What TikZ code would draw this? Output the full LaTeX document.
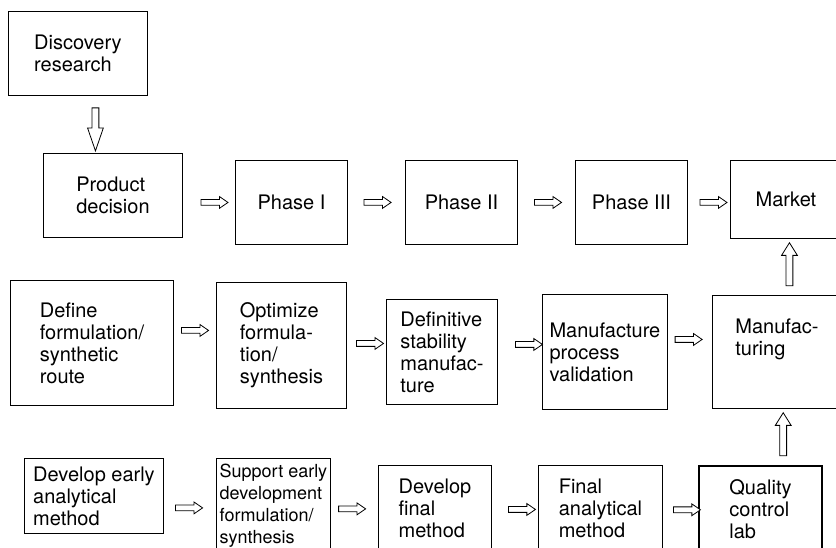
\documentclass[tikz,border=0pt]{standalone}
\usepackage{fontspec}
\setmainfont{TeX Gyre Heros}
\usetikzlibrary{shapes.arrows}
\begin{document}
\begin{tikzpicture}[x=1pt,y=-1pt,
  box/.style={draw, line width=0.9pt, inner sep=0pt, align=left, anchor=north west,
    font=\fontsize{20}{22}\selectfont},
  boldbox/.style={box, line width=2pt},
  harr/.style={single arrow, draw, fill=white, line width=0.8pt, inner xsep=0pt, inner ysep=2.5pt,
    minimum height=27pt, single arrow head extend=3pt,
    single arrow tip angle=69, single arrow head indent=0pt},
  darr/.style={harr, rotate=-90, minimum height=43pt, inner ysep=3pt,
    single arrow head extend=4.5pt, single arrow tip angle=38},
  uarr/.style={harr, rotate=90, minimum height=43pt, inner ysep=3pt,
    single arrow head extend=4.5pt, single arrow tip angle=64}
]
\useasboundingbox (0,0) rectangle (836,548);
\clip (0,0) rectangle (836,548);

% row 0
\node[box, minimum width=139pt, minimum height=84pt] (dr) at (8,11) {Discovery\\research};
% row 1
\node[box, minimum width=139pt, minimum height=84pt] (pd) at (43,153) {Product\\decision};
\node[box, minimum width=112pt, minimum height=84pt] (p1) at (235,160) {Phase I};
\node[box, minimum width=112pt, minimum height=84pt] (p2) at (405,160) {Phase II};
\node[box, minimum width=112pt, minimum height=84pt] (p3) at (575,160) {Phase III};
\node[box, minimum width=111pt, minimum height=78pt] (mk) at (730,160) {Market};
% row 2
\node[box, minimum width=163pt, minimum height=125pt] (df) at (10,280) {Define\\formulation/\\synthetic\\route};
\node[box, minimum width=130pt, minimum height=126pt] (op) at (216,282) {Optimize\\formula-\\tion/\\synthesis};
\node[box, minimum width=111pt, minimum height=105pt] (ds) at (386,299) {Definitive\\stability\\manufac-\\ture};
\node[box, minimum width=125pt, minimum height=115pt] (mv) at (542,294) {Manufacture\\process\\validation};
\node[box, minimum width=129pt, minimum height=113pt] (mf) at (712,295) {Manufac-\\turing\\\strut};
% row 3
\node[box, minimum width=139pt, minimum height=75pt] (de) at (24,458) {Develop early\\analytical\\method};
\node[box, minimum width=114pt, minimum height=94pt, font=\fontsize{18}{22}\selectfont] (se) at (216,458) {Support early\\development\\formulation/\\synthesis};
\node[box, minimum width=113pt, minimum height=86pt] (dfm) at (378,465) {Develop\\final\\method};
\node[box, minimum width=124pt, minimum height=86pt] (fa) at (538,465) {Final\\analytical\\method};
\node[boldbox, minimum width=123pt, minimum height=86pt] (qc) at (698,465) {Quality\\control\\lab};

% vertical block arrows
\path (dr.south) -- node[darr] (a0) {} (pd.north);
\path ([xshift=12.5pt]mf.north) -- node[uarr] (a13) {} ([xshift=3.5pt]mk.south);
\path ([xshift=23pt]qc.north) -- node[uarr] (a14) {} ([xshift=6pt]mf.south);

% horizontal block arrows, row 1
\path ([yshift=-7pt]pd.east) -- node[harr, pos=0.566] (a1) {} (p1.west);
\path (p1.east) -- node[harr, pos=0.483] (a2) {} (p2.west);
\path (p2.east) -- node[harr, pos=0.491] (a3) {} (p3.west);
\path (p3.east) -- node[harr, pos=0.558] (a4) {} ([yshift=-3pt]mk.west);
% row 2
\path ([yshift=12.5pt]df.east) -- node[harr, pos=0.453] (a5) {} ([yshift=15pt]op.west);
\path ([yshift=2pt]op.east) -- node[harr, pos=0.5375] (a6) {} ([yshift=8.5pt]ds.west);
\path ([yshift=7.5pt]ds.east) -- node[harr, pos=0.656] (a7) {} ([yshift=7.5pt]mv.west);
\path ([yshift=12.5pt]mv.east) -- node[harr, pos=0.422] (a8) {} ([yshift=12.5pt]mf.west);
% row 3
\path ([yshift=-11.5pt]de.east) -- node[harr, pos=0.443] (a9) {} ([yshift=-3pt]se.west);
\path ([yshift=-3pt]se.east) -- node[harr, pos=0.406] (a10) {} ([yshift=-1pt]dfm.west);
\path ([yshift=-1pt]dfm.east) -- node[harr, pos=0.606] (a11) {} ([yshift=-1pt]fa.west);
\path ([yshift=-1pt]fa.east) -- node[harr, pos=0.625] (a12) {} ([yshift=-1pt]qc.west);
\end{tikzpicture}
\end{document}
